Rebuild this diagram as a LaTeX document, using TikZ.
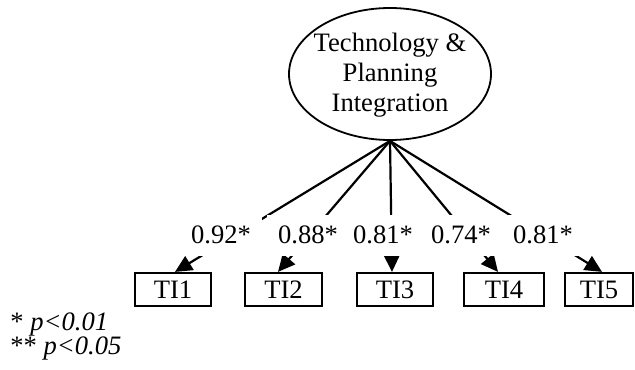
\documentclass[tikz,border=0pt]{standalone}
\usepackage{fontspec}
\setmainfont{Liberation Serif}
\usetikzlibrary{shapes.geometric,arrows.meta}

\begin{document}
\begin{tikzpicture}[x=0.5pt,y=-0.5pt,
  every node/.style={font=\fontsize{13.3}{15}\selectfont},
  factor/.style={draw,ellipse,line width=0.9pt,minimum width=101pt,minimum height=66pt,inner sep=0pt},
  indicator/.style={draw,rectangle,line width=1.1pt,minimum height=16.5pt,inner sep=0pt},
  loading/.style={fill=white,minimum width=41pt,minimum height=20.5pt,inner sep=0pt},
  path/.style={line width=1.1pt,-{Triangle[length=8.5pt,width=8pt]}},
  note/.style={anchor=base west,inner sep=0pt}]

  \useasboundingbox (0,0) rectangle (635,369);

  % latent factor
  \node[factor] (F) at (390,74) {};
  \node[align=center] (Ftext) at (390,75) {Technology \&\\Planning\\Integration};

  % observed indicators
  \node[indicator,minimum width=38pt] (T1) at (173,289.5) {TI1};
  \node[indicator,minimum width=38.5pt] (T2) at (283.5,289.5) {TI2};
  \node[indicator,minimum width=38pt] (T3) at (395,289.5) {TI3};
  \node[indicator,minimum width=40pt] (T4) at (504,289.5) {TI4};
  \node[indicator,minimum width=34pt] (T5) at (599,289.5) {TI5};

  % factor loadings
  \draw[path] (F.south) -- ([xshift=1pt]T1.north);
  \draw[path] (F.south) -- ([xshift=-2.75pt]T2.north);
  \draw[path] (F.south) -- ([xshift=-1.5pt]T3.north);
  \draw[path] (F.south) -- ([xshift=-3pt]T4.north);
  \draw[path] (F.south) -- ([xshift=1.5pt]T5.north);

  \node[loading] (L1) at (221,235) {0.92*};
  \node[loading] (L2) at (308,235) {0.88*};
  \node[loading] (L3) at (383,235) {0.81*};
  \node[loading] (L4) at (461,235) {0.74*};
  \node[loading] (L5) at (543,235) {0.81*};

  % significance note
  \node[note] (note1) at (10,330) {* \textit{p<0.01}};
  \node[note] (note2) at (10,354) {** \textit{p<0.05}};
\end{tikzpicture}
\end{document}
